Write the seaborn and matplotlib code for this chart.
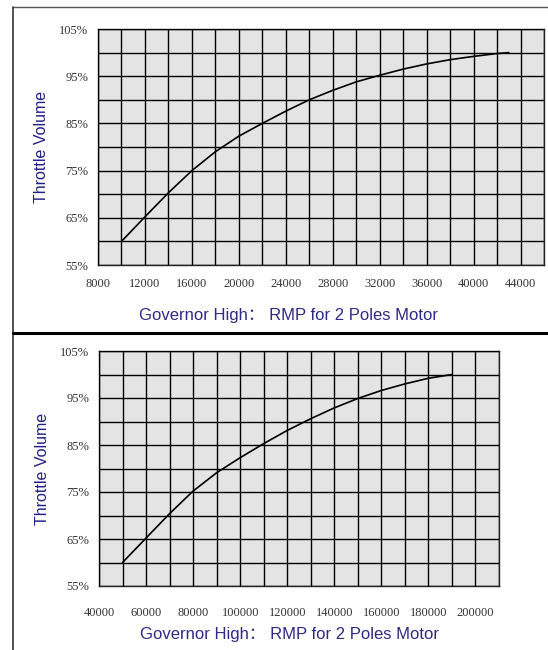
import matplotlib
matplotlib.use("Agg")
import matplotlib.pyplot as plt
import seaborn as sns
from matplotlib.lines import Line2D
from matplotlib.ticker import MultipleLocator, FixedLocator, FuncFormatter

# top chart: 2 poles motor, low range
top_rpm = [10000, 12000, 14000, 16000, 18000, 20000, 22000, 24000, 26000, 28000,
           30000, 32000, 34000, 36000, 38000, 40000, 42000, 43000]
top_throttle = [60, 65.2, 70.3, 75, 79, 82.3, 85, 87.6, 90, 92,
                93.8, 95.2, 96.5, 97.6, 98.5, 99.2, 99.8, 100]
top_xticks = [8000, 12000, 16000, 20000, 24000, 28000, 32000, 36000, 40000, 44000]

# bottom chart: 2 poles motor, high range
bot_rpm = [50000, 60000, 70000, 80000, 90000, 100000, 110000, 120000,
           130000, 140000, 150000, 160000, 170000, 180000, 190000]
bot_throttle = [60, 65.2, 70.4, 75.2, 79.1, 82.3, 85.3, 88.1,
                90.6, 92.9, 94.9, 96.6, 98.0, 99.2, 100]
bot_xticks = [40000, 60000, 80000, 100000, 120000, 140000, 160000, 180000, 200000]

yticks = [55, 65, 75, 85, 95, 105]
ylabel = "Throttle Volume"
xlabel = "Governor High： RMP for 2 Poles Motor"

sns.set_style("white", {"axes.facecolor": "#e4e4e4", "axes.edgecolor": "#222222",
                        "grid.color": "black"})
plt.rcParams['font.family'] = ['Liberation Sans', 'Noto Sans CJK SC', 'DejaVu Sans']

fig = plt.figure(figsize=(5.48, 6.5), dpi=100)
ax1 = fig.add_axes([98 / 548, 1 - 265 / 650, 446 / 548, 236 / 650])
ax2 = fig.add_axes([99 / 548, 1 - 586 / 650, 400 / 548, 235 / 650])


def setup(ax, xs, ys, xticks, xstep, xlim, xpad, xlab_pos, ylab_x):
    sns.lineplot(x=xs, y=ys, ax=ax, color="black", linewidth=1.2)
    ax.set_xlim(*xlim)
    ax.set_ylim(55, 105)
    ax.xaxis.set_major_locator(FixedLocator(xticks))
    ax.xaxis.set_minor_locator(MultipleLocator(xstep))
    ax.yaxis.set_major_locator(FixedLocator(yticks))
    ax.yaxis.set_minor_locator(MultipleLocator(5))
    ax.yaxis.set_major_formatter(FuncFormatter(lambda v, p: "%d%%" % v))
    ax.grid(True, which="both", color="black", linewidth=1.0)
    ax.set_axisbelow(False)
    for s in ax.spines.values():
        s.set_color("#222222")
        s.set_linewidth(1.0)
    ax.tick_params(which="both", length=0)
    ax.tick_params(axis="x", pad=xpad)
    ax.tick_params(axis="y", pad=7)
    for t in ax.get_xticklabels() + ax.get_yticklabels():
        t.set_family("Liberation Serif")
        t.set_fontsize(9)
        t.set_color("#333333")
    ax.set_xlabel(xlabel, fontsize=12, color="#2d2a86")
    ax.xaxis.label.set_va("center")
    ax.xaxis.set_label_coords(*xlab_pos)
    ax.set_ylabel(ylabel, fontsize=11.5, color="#1f1f85")
    ax.yaxis.label.set_va("center")
    ax.yaxis.set_label_coords(ylab_x, 0.5)


setup(ax1, top_rpm, top_throttle, top_xticks, 2000, (8000, 46000), 9.5,
      (0.428, -0.212), -0.1256)
setup(ax2, bot_rpm, bot_throttle, bot_xticks, 10000, (40000, 210000), 15,
      (0.475, -0.2085), -0.14)

# panel borders
fig.add_artist(Line2D([13 / 548, 1], [1 - 7 / 650, 1 - 7 / 650],
                      color="#555555", linewidth=1.0))
fig.add_artist(Line2D([13 / 548, 13 / 548], [0, 1 - 7 / 650],
                      color="#333333", linewidth=1.2))
fig.add_artist(Line2D([13 / 548, 1], [1 - 333 / 650, 1 - 333 / 650],
                      color="black", linewidth=2.2))

fig.savefig("out.png", dpi=100)
